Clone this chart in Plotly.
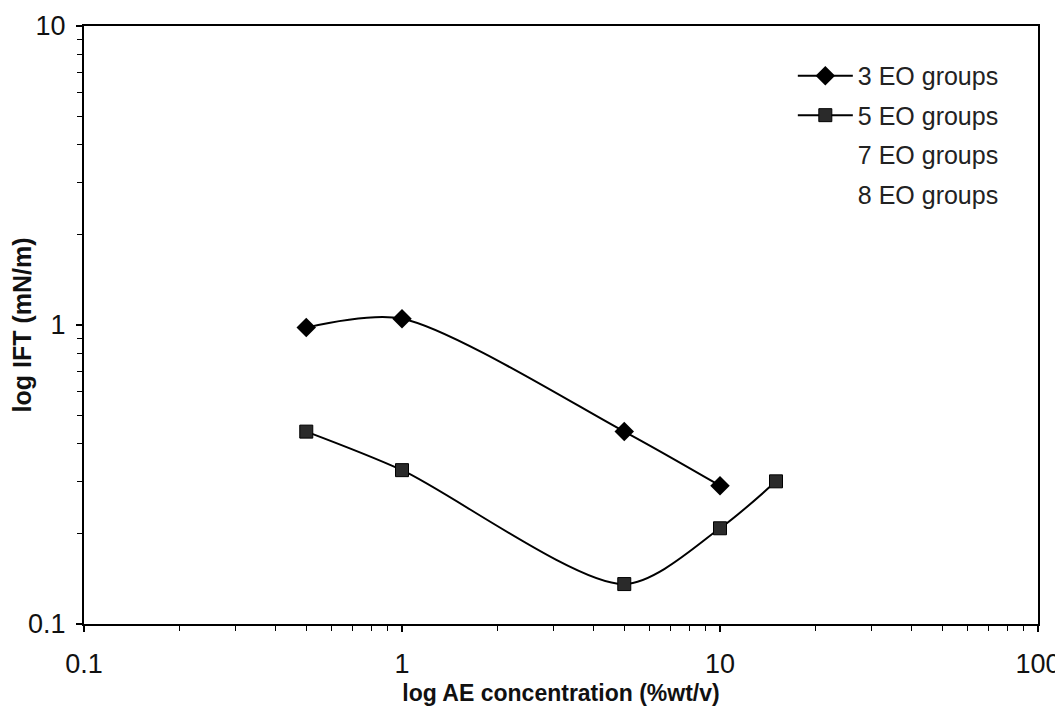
import plotly.graph_objects as go

conc_3eo = [0.5, 1, 5, 10]
ift_3eo = [0.98, 1.05, 0.44, 0.29]

conc_5eo = [0.5, 1, 5, 10, 15]
ift_5eo = [0.44, 0.327, 0.136, 0.209, 0.30]

conc_7eo = [None]
ift_7eo = [None]
conc_8eo = [None]
ift_8eo = [None]

x_ticks = [0.1, 1, 10, 100]
x_tick_labels = ["0.1", "1", "10", "100"]
y_ticks = [0.1, 1, 10]
y_tick_labels = ["0.1", "1", "10"]

font_family = "Liberation Sans, Arial, sans-serif"

fig = go.Figure()
fig.add_trace(go.Scatter(
    x=conc_3eo, y=ift_3eo, name="3 EO groups", mode="lines+markers",
    line=dict(color="black", width=2, shape="spline", smoothing=0.8),
    marker=dict(symbol="diamond", size=15, color="black"),
    legendgroup="a"))
fig.add_trace(go.Scatter(
    x=conc_5eo, y=ift_5eo, name="5 EO groups", mode="lines+markers",
    line=dict(color="black", width=2, shape="spline", smoothing=0.8),
    marker=dict(symbol="square", size=13, color="#2a2a2a", line=dict(color="black", width=1)),
    legendgroup="b"))
fig.add_trace(go.Scatter(
    x=conc_7eo, y=ift_7eo, name="7 EO groups", mode="lines",
    line=dict(color="rgba(0,0,0,0)", width=2), legendgroup="c", showlegend=True))
fig.add_trace(go.Scatter(
    x=conc_8eo, y=ift_8eo, name="8 EO groups", mode="lines",
    line=dict(color="rgba(0,0,0,0)", width=2), legendgroup="d", showlegend=True))

axis_common = dict(
    type="log", showgrid=False, zeroline=False, automargin=False,
    showline=True, linecolor="black", linewidth=2, mirror=True,
    ticks="outside", ticklen=6, tickwidth=1.5, tickcolor="black",
    tickfont=dict(family=font_family, size=27, color="#111"),
    minor=dict(ticks="outside", ticklen=5, tickwidth=1, tickcolor="black", dtick="D1", showgrid=False),
)

fig.update_xaxes(
    **axis_common,
    range=[-1, 2],
    tickvals=x_ticks, ticktext=x_tick_labels,
    ticklabelstandoff=9,
    title=dict(text="<b>log AE concentration (%wt/v)</b>",
               font=dict(family=font_family, size=23, color="#111"), standoff=6),
)
fig.update_yaxes(
    **axis_common,
    range=[-1, 1],
    tickvals=y_ticks, ticktext=y_tick_labels,
    ticklabelstandoff=5,
    title=dict(text="<b>log IFT (mN/m)</b>",
               font=dict(family=font_family, size=25, color="#111"), standoff=2),
)

fig.update_layout(
    width=1055, height=720,
    margin=dict(l=76, r=25, t=18, b=104),
    paper_bgcolor="white", plot_bgcolor="white",
    showlegend=True,
    legend=dict(
        x=0.743, y=0.955, xanchor="left", yanchor="top",
        font=dict(family=font_family, size=25, color="#222"),
        bgcolor="rgba(0,0,0,0)", itemwidth=55, tracegroupgap=4,
    ),
)

fig.write_html("out.html")
